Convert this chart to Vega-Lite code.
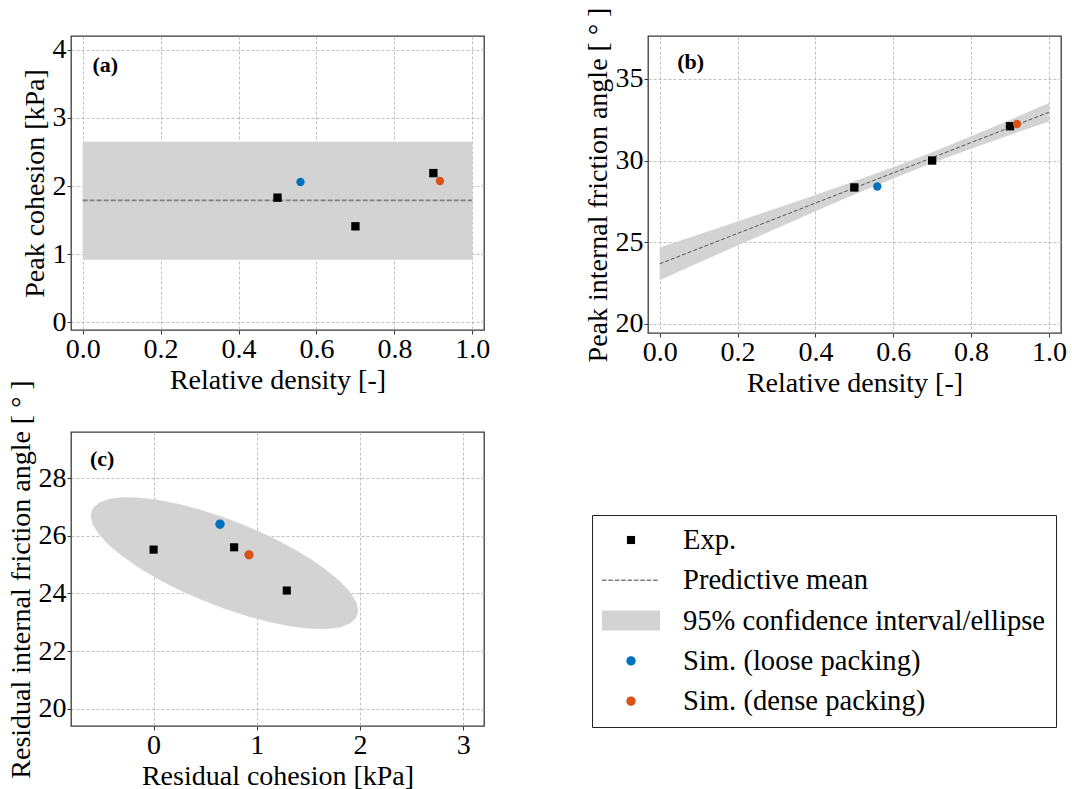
{
  "$schema": "https://vega.github.io/schema/vega-lite/v6.json",
  "padding": {"left": 6, "top": 6, "right": 0, "bottom": 0},
  "background": "white",
  "config": {
    "font": "Liberation Serif",
    "view": {"stroke": "#3a3a3a", "strokeWidth": 1.3},
    "axis": {
      "labelFont": "Liberation Serif", "titleFont": "Liberation Serif",
      "labelFontSize": 28, "titleFontSize": 28, "titleFontWeight": "normal",
      "labelColor": "black", "titleColor": "black",
      "tickSize": 4, "tickColor": "#3a3a3a", "tickWidth": 1,
      "labelPadding": 1, "titlePadding": 3,
      "domain": false,
      "grid": true, "gridColor": "#b0b0b0", "gridDash": [3, 2], "gridWidth": 0.8,
      "labelFlush": false, "labelOverlap": false, "zindex": 1
    }
  },
  "datasets": {
    "a_pts": [
      {"x": 0.5, "y": 1.83, "series": "Exp."},
      {"x": 0.7, "y": 1.41, "series": "Exp."},
      {"x": 0.9, "y": 2.19, "series": "Exp."},
      {"x": 0.559, "y": 2.06, "series": "Sim. (loose packing)"},
      {"x": 0.917, "y": 2.075, "series": "Sim. (dense packing)"}
    ],
    "a_band": [{"x0": 0, "x1": 1, "lo": 0.92, "hi": 2.65, "mean": 1.79}],
    "b_pts": [
      {"x": 0.5, "y": 28.35, "series": "Exp."},
      {"x": 0.7, "y": 30.0, "series": "Exp."},
      {"x": 0.9, "y": 32.1, "series": "Exp."},
      {"x": 0.559, "y": 28.41, "series": "Sim. (loose packing)"},
      {"x": 0.918, "y": 32.24, "series": "Sim. (dense packing)"}
    ],
    "b_band": [
      {"x": 0.0, "mean": 23.67, "lo": 22.67, "hi": 24.67},
      {"x": 0.1, "mean": 24.60, "lo": 23.73, "hi": 25.47},
      {"x": 0.2, "mean": 25.53, "lo": 24.79, "hi": 26.27},
      {"x": 0.3, "mean": 26.46, "lo": 25.84, "hi": 27.08},
      {"x": 0.4, "mean": 27.39, "lo": 26.89, "hi": 27.89},
      {"x": 0.5, "mean": 28.32, "lo": 27.91, "hi": 28.73},
      {"x": 0.6, "mean": 29.24, "lo": 28.90, "hi": 29.59},
      {"x": 0.7, "mean": 30.17, "lo": 29.84, "hi": 30.50},
      {"x": 0.8, "mean": 31.10, "lo": 30.72, "hi": 31.48},
      {"x": 0.9, "mean": 32.03, "lo": 31.57, "hi": 32.49},
      {"x": 1.0, "mean": 32.96, "lo": 32.39, "hi": 33.53}
    ],
    "c_pts": [
      {"x": 0.0, "y": 25.52, "series": "Exp."},
      {"x": 0.78, "y": 25.6, "series": "Exp."},
      {"x": 1.29, "y": 24.1, "series": "Exp."},
      {"x": 0.643, "y": 26.4, "series": "Sim. (loose packing)"},
      {"x": 0.924, "y": 25.34, "series": "Sim. (dense packing)"}
    ],
    "c_ellipse": [
      {"i": 0, "x": 1.980, "y": 23.400},
      {"i": 1, "x": 1.960, "y": 23.698},
      {"i": 2, "x": 1.902, "y": 24.038},
      {"i": 3, "x": 1.807, "y": 24.408},
      {"i": 4, "x": 1.677, "y": 24.797},
      {"i": 5, "x": 1.518, "y": 25.194},
      {"i": 6, "x": 1.333, "y": 25.587},
      {"i": 7, "x": 1.129, "y": 25.964},
      {"i": 8, "x": 0.911, "y": 26.313},
      {"i": 9, "x": 0.686, "y": 26.623},
      {"i": 10, "x": 0.461, "y": 26.886},
      {"i": 11, "x": 0.244, "y": 27.093},
      {"i": 12, "x": 0.039, "y": 27.237},
      {"i": 13, "x": -0.146, "y": 27.316},
      {"i": 14, "x": -0.305, "y": 27.325},
      {"i": 15, "x": -0.435, "y": 27.266},
      {"i": 16, "x": -0.530, "y": 27.139},
      {"i": 17, "x": -0.588, "y": 26.948},
      {"i": 18, "x": -0.608, "y": 26.700},
      {"i": 19, "x": -0.588, "y": 26.402},
      {"i": 20, "x": -0.530, "y": 26.063},
      {"i": 21, "x": -0.435, "y": 25.692},
      {"i": 22, "x": -0.305, "y": 25.303},
      {"i": 23, "x": -0.146, "y": 24.906},
      {"i": 24, "x": 0.039, "y": 24.513},
      {"i": 25, "x": 0.244, "y": 24.136},
      {"i": 26, "x": 0.461, "y": 23.787},
      {"i": 27, "x": 0.686, "y": 23.477},
      {"i": 28, "x": 0.911, "y": 23.215},
      {"i": 29, "x": 1.129, "y": 23.008},
      {"i": 30, "x": 1.333, "y": 22.863},
      {"i": 31, "x": 1.518, "y": 22.785},
      {"i": 32, "x": 1.677, "y": 22.775},
      {"i": 33, "x": 1.807, "y": 22.834},
      {"i": 34, "x": 1.902, "y": 22.962},
      {"i": 35, "x": 1.960, "y": 23.152},
      {"i": 36, "x": 1.980, "y": 23.400}
    ]
  },
  "columns": 2,
  "bounds": "flush",
  "spacing": {"row": 99, "column": 164},
  "resolve": {"scale": {"color": "independent", "shape": "independent"}, "legend": {"color": "independent", "shape": "independent"}},
  "concat": [
    {
      "width": 413, "height": 294,
      "layer": [
        {
          "data": {"name": "a_band"},
          "mark": {"type": "rect", "color": "#d3d3d3"},
          "encoding": {
            "x": {"field": "x0", "type": "quantitative", "scale": {"domain": [-0.03, 1.03], "nice": false, "zero": false},
                  "axis": {"values": [0, 0.2, 0.4, 0.6, 0.8, 1.0], "format": ".1f", "title": "Relative density [-]"}},
            "x2": {"field": "x1"},
            "y": {"field": "lo", "type": "quantitative", "scale": {"domain": [-0.11, 4.2], "nice": false, "zero": false},
                  "axis": {"values": [0, 1, 2, 3, 4], "format": "d", "title": "Peak cohesion [kPa]"}},
            "y2": {"field": "hi"}
          }
        },
        {
          "data": {"name": "a_band"},
          "mark": {"type": "rule", "color": "#808080", "strokeWidth": 1.8, "strokeDash": [5, 2]},
          "encoding": {
            "x": {"field": "x0", "type": "quantitative"},
            "x2": {"field": "x1"},
            "y": {"field": "mean", "type": "quantitative"}
          }
        },
        {
          "data": {"name": "a_pts"},
          "mark": {"type": "point", "filled": true, "size": 70, "opacity": 1},
          "encoding": {
            "x": {"field": "x", "type": "quantitative"},
            "y": {"field": "y", "type": "quantitative"},
            "color": {"field": "series", "type": "nominal", "legend": null,
                      "scale": {"domain": ["Exp.", "Sim. (loose packing)", "Sim. (dense packing)"], "range": ["#000000", "#0072BD", "#D95319"]}},
            "shape": {"field": "series", "type": "nominal", "legend": null,
                      "scale": {"domain": ["Exp.", "Sim. (loose packing)", "Sim. (dense packing)"], "range": ["square", "circle", "circle"]}}
          }
        },
        {
          "data": {"values": [{"label": "(a)"}]},
          "mark": {"type": "text", "align": "left", "baseline": "alphabetic", "fontSize": 22, "fontWeight": "bold", "font": "Liberation Serif", "color": "black"},
          "encoding": {
            "x": {"datum": 0.025, "type": "quantitative"},
            "y": {"datum": 3.67, "type": "quantitative"},
            "text": {"field": "label", "type": "nominal"}
          }
        }
      ]
    },
    {
      "width": 413, "height": 297,
      "layer": [
        {
          "data": {"name": "b_band"},
          "mark": {"type": "area", "color": "#d3d3d3", "opacity": 1},
          "encoding": {
            "x": {"field": "x", "type": "quantitative", "scale": {"domain": [-0.03, 1.031], "nice": false, "zero": false},
                  "axis": {"values": [0, 0.2, 0.4, 0.6, 0.8, 1.0], "format": ".1f", "title": "Relative density [-]"}},
            "y": {"field": "lo", "type": "quantitative", "scale": {"domain": [19.43, 37.63], "nice": false, "zero": false},
                  "axis": {"values": [20, 25, 30, 35], "format": "d", "title": "Peak internal friction angle [ ° ]"}},
            "y2": {"field": "hi"}
          }
        },
        {
          "data": {"name": "b_band"},
          "mark": {"type": "line", "color": "#555555", "strokeWidth": 1, "strokeDash": [4, 2]},
          "encoding": {
            "x": {"field": "x", "type": "quantitative"},
            "y": {"field": "mean", "type": "quantitative"}
          }
        },
        {
          "data": {"name": "b_pts"},
          "mark": {"type": "point", "filled": true, "size": 70, "opacity": 1},
          "encoding": {
            "x": {"field": "x", "type": "quantitative"},
            "y": {"field": "y", "type": "quantitative"},
            "color": {"field": "series", "type": "nominal", "legend": null,
                      "scale": {"domain": ["Exp.", "Sim. (loose packing)", "Sim. (dense packing)"], "range": ["#000000", "#0072BD", "#D95319"]}},
            "shape": {"field": "series", "type": "nominal", "legend": null,
                      "scale": {"domain": ["Exp.", "Sim. (loose packing)", "Sim. (dense packing)"], "range": ["square", "circle", "circle"]}}
          }
        },
        {
          "data": {"values": [{"label": "(b)"}]},
          "mark": {"type": "text", "align": "left", "baseline": "alphabetic", "fontSize": 22, "fontWeight": "bold", "font": "Liberation Serif", "color": "black"},
          "encoding": {
            "x": {"datum": 0.045, "type": "quantitative"},
            "y": {"datum": 35.62, "type": "quantitative"},
            "text": {"field": "label", "type": "nominal"}
          }
        }
      ]
    },
    {
      "width": 413, "height": 294,
      "layer": [
        {
          "data": {"name": "c_ellipse"},
          "mark": {"type": "line", "color": "#d3d3d3", "fill": "#d3d3d3", "strokeWidth": 0.5},
          "encoding": {
            "x": {"field": "x", "type": "quantitative", "scale": {"domain": [-0.8, 3.2], "nice": false, "zero": false},
                  "axis": {"values": [0, 1, 2, 3], "format": "d", "title": "Residual cohesion [kPa]"}},
            "y": {"field": "y", "type": "quantitative", "scale": {"domain": [19.4, 29.6], "nice": false, "zero": false},
                  "axis": {"values": [20, 22, 24, 26, 28], "format": "d", "title": "Residual internal friction angle [ ° ]"}},
            "order": {"field": "i", "type": "quantitative"}
          }
        },
        {
          "data": {"name": "c_pts"},
          "mark": {"type": "point", "filled": true, "size": 3364, "opacity": 1, "strokeWidth": 0},
          "encoding": {
            "x": {"field": "x", "type": "quantitative"},
            "y": {"field": "y", "type": "quantitative"},
            "color": {"field": "series", "type": "nominal",
                      "scale": {"domain": ["Exp.", "Predictive mean", "95% confidence interval/ellipse", "Sim. (loose packing)", "Sim. (dense packing)"],
                                "range": ["#000000", "#808080", "#d3d3d3", "#0072BD", "#D95319"]},
                      "legend": {"orient": "none", "legendX": 521, "legendY": 83, "title": null, "padding": 10,
                                 "strokeColor": "#222222", "fillColor": "white", "cornerRadius": 0,
                                 "labelFont": "Liberation Serif", "labelFontSize": 28.6, "labelColor": "black", "labelLimit": 0,
                                 "symbolSize": 3364, "symbolStrokeWidth": 0, "symbolOpacity": 1, "clipHeight": 30, "rowPadding": 10.3, "labelOffset": 23}},
            "shape": {"field": "series", "type": "nominal",
                      "scale": {"domain": ["Exp.", "Predictive mean", "95% confidence interval/ellipse", "Sim. (loose packing)", "Sim. (dense packing)"],
                                "range": [
                                  "M-0.14,-0.14H0.14V0.14H-0.14Z",
                                  "M-1,-0.025H-0.84V0.025H-1ZM-0.78,-0.025H-0.62V0.025H-0.78ZM-0.56,-0.025H-0.4V0.025H-0.56ZM-0.34,-0.025H-0.18V0.025H-0.34ZM-0.12,-0.025H0.04V0.025H-0.12ZM0.1,-0.025H0.26V0.025H0.1ZM0.32,-0.025H0.48V0.025H0.32ZM0.54,-0.025H0.7V0.025H0.54ZM0.76,-0.025H0.92V0.025H0.76Z",
                                  "M-1,-0.345H1V0.345H-1Z",
                                  "M0.16,0A0.16,0.16,0,1,1,-0.16,0A0.16,0.16,0,1,1,0.16,0Z",
                                  "M0.16,0A0.16,0.16,0,1,1,-0.16,0A0.16,0.16,0,1,1,0.16,0Z"
                                ]},
                      "legend": {"orient": "none", "legendX": 521, "legendY": 83, "title": null, "padding": 10,
                                 "strokeColor": "#222222", "fillColor": "white", "cornerRadius": 0,
                                 "labelFont": "Liberation Serif", "labelFontSize": 28.6, "labelColor": "black", "labelLimit": 0,
                                 "symbolSize": 3364, "symbolStrokeWidth": 0, "symbolOpacity": 1, "clipHeight": 30, "rowPadding": 10.3, "labelOffset": 23}}
          }
        },
        {
          "data": {"values": [{"label": "(c)"}]},
          "mark": {"type": "text", "align": "left", "baseline": "alphabetic", "fontSize": 22, "fontWeight": "bold", "font": "Liberation Serif", "color": "black"},
          "encoding": {
            "x": {"datum": -0.616, "type": "quantitative"},
            "y": {"datum": 28.41, "type": "quantitative"},
            "text": {"field": "label", "type": "nominal"}
          }
        }
      ]
    }
  ]
}
